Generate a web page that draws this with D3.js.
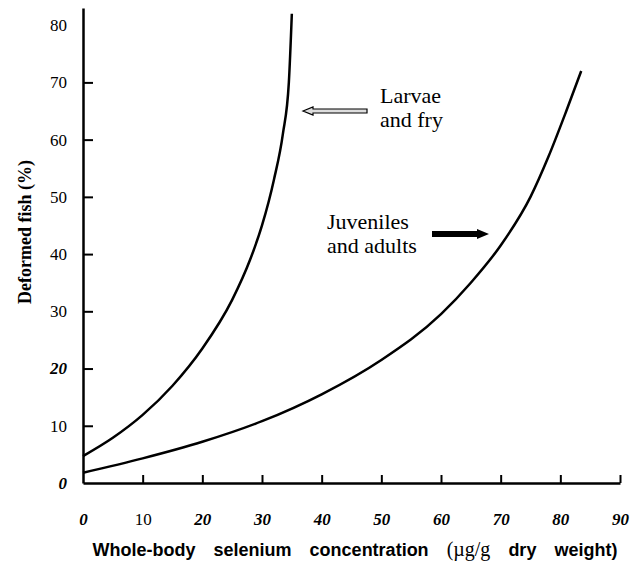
<!DOCTYPE html>
<html>
<head>
<meta charset="utf-8">
<script src="https://cdn.jsdelivr.net/npm/d3@7"></script>
<style>
  body { margin: 0; background: #fff; }
  svg { display: block; }
</style>
</head>
<body>
<svg width="632" height="573"></svg>
<script>
// values
const xTicks = [0, 10, 20, 30, 40, 50, 60, 70, 80, 90];
const yTicks = [0, 10, 20, 30, 40, 50, 60, 70, 80];
// the scan mixes typefaces on the tick labels
const xBoldItalic = [0, 20, 30, 40, 50, 60, 70, 80, 90];
const yBoldItalic = [0, 20];

const larvaeX = [0, 5, 10, 15, 20, 25, 28, 30, 32, 33.5, 34.5, 35];
const larvaeY = [4.7, 7.9, 11.9, 17, 23.5, 32, 39, 45, 53, 61, 70, 82];

const juvX = [0, 10, 20, 30, 40, 50, 60, 65, 70, 75, 78, 81, 83.5];
const juvY = [1.8, 4.3, 7.2, 10.8, 15.5, 21.5, 29.5, 35, 41.5, 50, 57, 65, 72];

const svg = d3.select("svg");
const serif = "'Liberation Serif', 'Times New Roman', serif";
const sans = "'Liberation Sans', Arial, sans-serif";

const x = d3.scaleLinear().domain([0, 90]).range([83, 620]);
const y = d3.scaleLinear().domain([0, 83]).range([483, 8]);

// x axis, ticks pointing up into the plot
const xAxis = svg.append("g")
    .attr("transform", `translate(0,${y(0)})`)
    .call(d3.axisBottom(x).tickValues(xTicks).tickSize(-8).tickSizeOuter(0).tickPadding(30));

// y axis, ticks pointing right
const yAxis = svg.append("g")
    .attr("transform", `translate(${x(0)},0)`)
    .call(d3.axisLeft(y).tickValues(yTicks).tickSize(-10).tickSizeOuter(0).tickPadding(16));

[xAxis, yAxis].forEach(g => {
    g.select(".domain").attr("stroke", "#000").attr("stroke-width", 2.5);
    g.selectAll(".tick line").attr("stroke", "#000").attr("stroke-width", 2);
    g.selectAll(".tick text").attr("fill", "#000").attr("font-family", serif).attr("font-size", 17);
});
// no tick marks at the corner or at the top label
xAxis.selectAll(".tick").filter(d => d === 0).select("line").remove();
yAxis.selectAll(".tick").filter(d => d === 0 || d === 80).select("line").remove();

xAxis.selectAll(".tick text")
    .attr("font-weight", d => xBoldItalic.includes(d) ? "bold" : "normal")
    .attr("font-style", d => xBoldItalic.includes(d) ? "italic" : "normal");
yAxis.selectAll(".tick text")
    .attr("font-weight", d => yBoldItalic.includes(d) ? "bold" : "normal")
    .attr("font-style", d => yBoldItalic.includes(d) ? "italic" : "normal");

// curves
const line = d3.line()
    .x(d => x(d[0]))
    .y(d => y(d[1]))
    .curve(d3.curveMonotoneX);

const larvae = larvaeX.map((v, i) => [v, larvaeY[i]]);
const juveniles = juvX.map((v, i) => [v, juvY[i]]);

svg.selectAll("path.curve")
    .data([larvae, juveniles])
    .enter().append("path")
    .attr("class", "curve")
    .attr("fill", "none")
    .attr("stroke", "#000")
    .attr("stroke-width", 2.5)
    .attr("d", line);

// labels
function label(lines, lx, ly) {
    const t = svg.append("text")
        .attr("font-family", serif)
        .attr("font-size", 22)
        .attr("fill", "#000");
    lines.forEach((s, i) => {
        t.append("tspan").attr("x", lx).attr("y", ly + i * 24).text(s);
    });
}
label(["Larvae", "and fry"], 380, 103);
label(["Juveniles", "and adults"], 327, 229);

// hollow arrow pointing left at the larvae curve
const ay = 111;
svg.append("path")
    .attr("d", `M303,${ay} L313,${ay - 4} L313,${ay - 2} L367,${ay - 2} L367,${ay + 2} L313,${ay + 2} L313,${ay + 4} Z`)
    .attr("fill", "#ddd")
    .attr("stroke", "#000")
    .attr("stroke-width", 1.2);

// solid arrow pointing right at the juvenile curve
const by = 234;
svg.append("path")
    .attr("d", `M432,${by - 3} L477,${by - 3} L477,${by - 5} L489,${by} L477,${by + 5} L477,${by + 3} L432,${by + 3} Z`)
    .attr("fill", "#000");

// axis titles
const xt = svg.append("text")
    .attr("x", 355)
    .attr("y", 556)
    .attr("text-anchor", "middle")
    .attr("font-family", sans)
    .attr("font-weight", "bold")
    .attr("font-size", 18)
    .attr("word-spacing", 13);
xt.append("tspan").text("Whole-body selenium concentration ");
xt.append("tspan").attr("font-family", serif).attr("font-weight", "normal").attr("font-size", 20).text("(µg/g");
xt.append("tspan").text(" dry weight)");

svg.append("text")
    .attr("transform", "translate(31,232) rotate(-90)")
    .attr("text-anchor", "middle")
    .attr("font-family", serif)
    .attr("font-weight", "bold")
    .attr("font-size", 18)
    .text("Deformed fish (%)");
</script>
</body>
</html>
